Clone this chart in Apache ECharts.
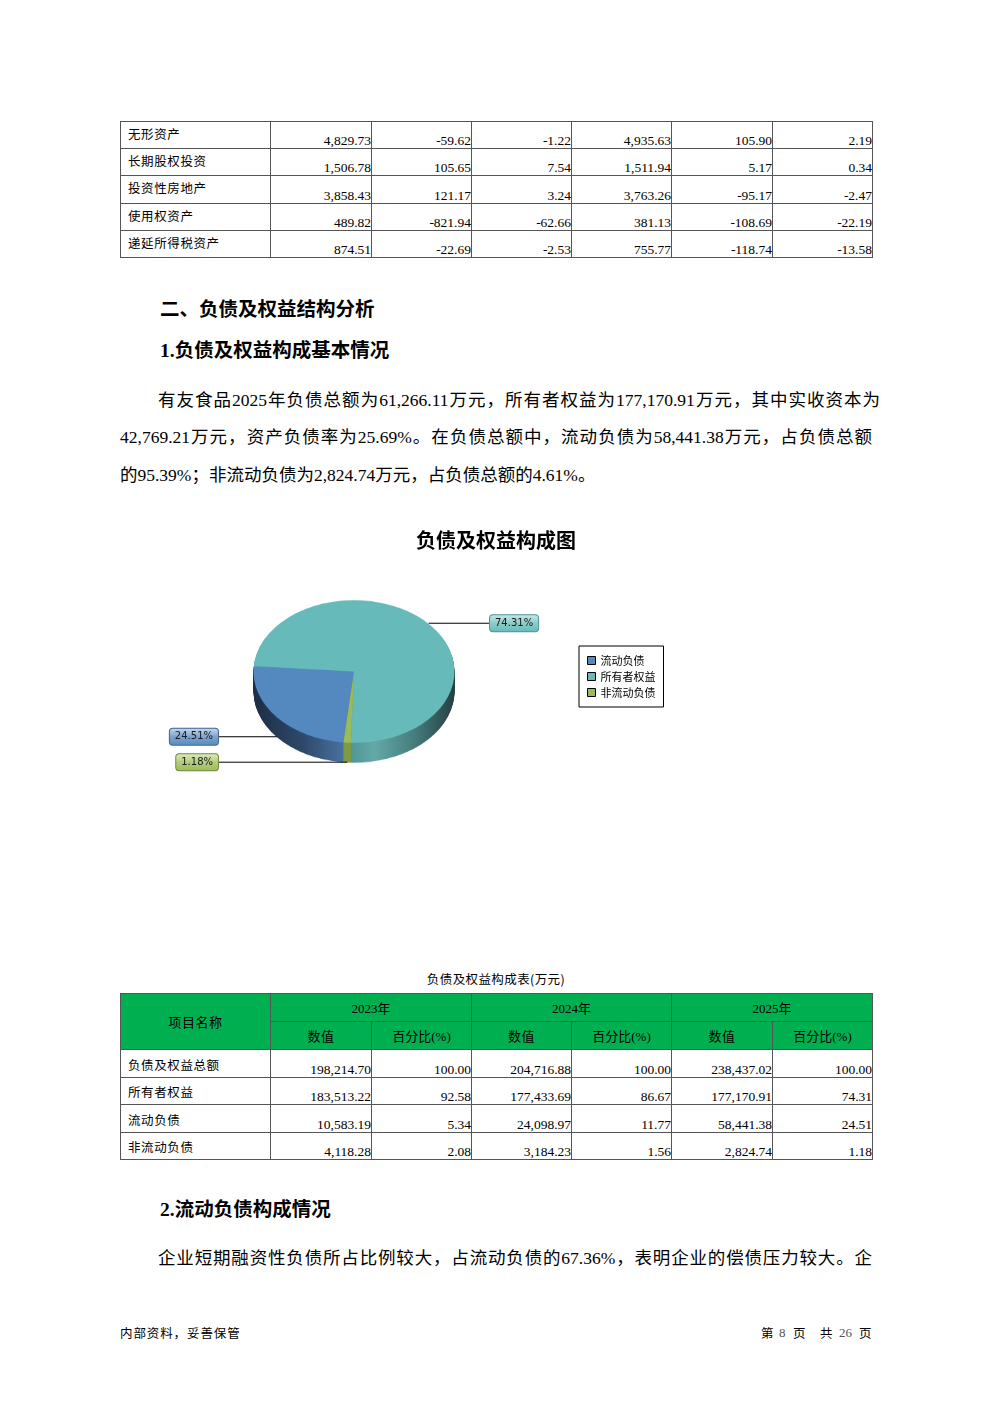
<!DOCTYPE html>
<html>
<head>
<meta charset="utf-8">
<script src="https://cdn.jsdelivr.net/npm/echarts/dist/echarts.min.js"></script>
<style>
body{margin:0;background:#fff;}
#page{position:relative;width:992px;height:1403px;overflow:hidden;background:#fff;color:#000;font-family:"Liberation Serif","Noto Sans CJK SC",serif;}
.abs{position:absolute;white-space:nowrap;}
.h{font-weight:bold;font-size:19.5px;line-height:24px;}
.line{position:absolute;font-size:17.5px;line-height:22px;white-space:nowrap;}
.just{text-align:justify;text-align-last:justify;white-space:normal;}
table.t{position:absolute;left:120px;border-collapse:collapse;table-layout:fixed;border:1px solid #222;}
table.t td{border:1px solid #555;padding:0;overflow:hidden;white-space:nowrap;}
table.t td.lab{font-family:"Noto Sans CJK SC",sans-serif;font-size:12.5px;letter-spacing:0.6px;padding-left:7px;vertical-align:middle;line-height:14px;}
table.t td.num{font-family:"Liberation Serif",serif;font-size:13.5px;text-align:right;vertical-align:bottom;line-height:14px;padding-right:0;}
table.t td.hd{background:#00b050;text-align:center;vertical-align:middle;font-size:13px;font-family:"Liberation Serif","Noto Sans CJK SC",serif;}
table.t td.hdc{background:#00b050;text-align:center;vertical-align:middle;font-size:13px;letter-spacing:0.6px;font-family:"Noto Sans CJK SC",sans-serif;}
#pieA{position:absolute;left:0;width:992px;height:300px;transform-origin:0 0;}
#pieB{position:absolute;left:0;top:510px;width:992px;height:300px;}
.foot{position:absolute;top:1325px;height:16px;line-height:16px;font-size:12.5px;font-family:'Noto Sans CJK SC',sans-serif;white-space:nowrap;}
.pn{font-family:'Liberation Serif',serif;color:#555;font-size:13px;}
</style>
</head>
<body>
<div id="page">
  <table class="t" id="assetTable" style="top:121px;"></table>

  <div class="abs h" style="left:160px;top:296px;font-family:'Noto Sans CJK SC',sans-serif;">二、负债及权益结构分析</div>
  <div class="abs h" style="left:160px;top:339px;">1.负债及权益构成基本情况</div>

  <div class="line just" style="left:158px;top:389px;width:722px;">有友食品2025年负债总额为61,266.11万元，所有者权益为177,170.91万元，其中实收资本为</div>
  <div class="line just" style="left:120px;top:426px;width:752px;">42,769.21万元，资产负债率为25.69%。在负债总额中，流动负债为58,441.38万元，占负债总额</div>
  <div class="line" style="left:120px;top:464px;">的95.39%；非流动负债为2,824.74万元，占负债总额的4.61%。</div>

  <div id="pieA"></div>
  <div id="pieB"></div>

  <div class="abs" style="left:0;width:992px;text-align:center;top:969px;font-size:12.5px;letter-spacing:0.4px;font-family:'Noto Sans CJK SC',sans-serif;">负债及权益构成表(万元)</div>
  <table class="t" id="structTable" style="top:993px;"></table>

  <div class="abs h" style="left:160px;top:1198px;">2.流动负债构成情况</div>
  <div class="line just" style="left:158px;top:1247px;width:714px;">企业短期融资性负债所占比例较大，占流动负债的67.36%，表明企业的偿债压力较大。企</div>

  <div class="foot" style="left:120px;letter-spacing:0.9px;">内部资料，妥善保管</div>
  <div class="foot" style="left:761px;">第</div>
  <div class="foot pn" style="left:779px;">8</div>
  <div class="foot" style="left:793px;">页</div>
  <div class="foot" style="left:820px;">共</div>
  <div class="foot pn" style="left:839px;">26</div>
  <div class="foot" style="left:859px;">页</div>
</div>

<script>
// ---------- data ----------
const assetItems = ['无形资产','长期股权投资','投资性房地产','使用权资产','递延所得税资产'];
const assetCol1 = ['4,829.73','1,506.78','3,858.43','489.82','874.51'];
const assetCol2 = ['-59.62','105.65','121.17','-821.94','-22.69'];
const assetCol3 = ['-1.22','7.54','3.24','-62.66','-2.53'];
const assetCol4 = ['4,935.63','1,511.94','3,763.26','381.13','755.77'];
const assetCol5 = ['105.90','5.17','-95.17','-108.69','-118.74'];
const assetCol6 = ['2.19','0.34','-2.47','-22.19','-13.58'];

const years = ['2023年','2024年','2025年'];
const structItems = ['负债及权益总额','所有者权益','流动负债','非流动负债'];
const struct2023Value = ['198,214.70','183,513.22','10,583.19','4,118.28'];
const struct2023Pct = ['100.00','92.58','5.34','2.08'];
const struct2024Value = ['204,716.88','177,433.69','24,098.97','3,184.23'];
const struct2024Pct = ['100.00','86.67','11.77','1.56'];
const struct2025Value = ['238,437.02','177,170.91','58,441.38','2,824.74'];
const struct2025Pct = ['100.00','74.31','24.51','1.18'];

const pieNames = ['流动负债','所有者权益','非流动负债'];
const pieShares = [24.51, 74.31, 1.18];

// ---------- tables ----------
const colW = [150,101,100,100,100,101,100];
function colgroup(){ return '<colgroup>' + colW.map(w=>'<col style="width:'+w+'px">').join('') + '</colgroup>'; }
(function(){
  const cols = [assetCol1,assetCol2,assetCol3,assetCol4,assetCol5,assetCol6];
  let h = colgroup();
  assetItems.forEach((name,i)=>{
    h += '<tr style="height:27.2px"><td class="lab" style="padding-bottom:2px">'+name+'</td>' + cols.map(c=>'<td class="num">'+c[i]+'</td>').join('') + '</tr>';
  });
  document.getElementById('assetTable').innerHTML = h;
})();
(function(){
  const cols = [struct2023Value,struct2023Pct,struct2024Value,struct2024Pct,struct2025Value,struct2025Pct];
  let h = colgroup();
  h += '<tr style="height:28px"><td class="hdc" rowspan="2">项目名称</td>' + years.map(y=>'<td class="hd" colspan="2">'+y+'</td>').join('') + '</tr>';
  h += '<tr style="height:28px">' + years.map(()=>'<td class="hdc">数值</td><td class="hd">百分比(%)</td>').join('') + '</tr>';
  structItems.forEach((name,i)=>{
    h += '<tr style="height:27.5px"><td class="lab" style="padding-top:3px">'+name+'</td>' + cols.map(c=>'<td class="num">'+c[i]+'</td>').join('') + '</tr>';
  });
  document.getElementById('structTable').innerHTML = h;
})();

// ---------- pie chart ----------
const CX = 354, R = 100.5, SQ = 0.71, DEPTH = 20, START = 264, LABEL_OFF = 136;
const CYA = 150;            // centre inside the squashed canvas
const PAGE_CY = 671;        // centre of the top face on the page
const elA = document.getElementById('pieA');
elA.style.top = (PAGE_CY - CYA*SQ) + 'px';
elA.style.transform = 'scaleY(' + SQ + ')';

const topColors = ['#5389be','#66bbba','#9bbb59'];
const G = echarts.graphic.LinearGradient;
const sideColors = [
  new G(CX-R,0,CX+R,0,[{offset:0,color:'#1d2e45'},{offset:0.25,color:'#30496b'},{offset:0.46,color:'#4c74a2'},{offset:1,color:'#4c74a2'}],true),
  new G(CX-R,0,CX+R,0,[{offset:0,color:'#4a9090'},{offset:0.47,color:'#4c9393'},{offset:0.6,color:'#64a9a9'},{offset:0.8,color:'#467d7e'},{offset:1,color:'#263f42'}],true),
  '#7e9a45'
];

const chartA = echarts.init(elA);
const seriesA = [];
const depthU = Math.round(DEPTH/SQ);
for (let k = depthU; k >= 1; k--) {
  seriesA.push({
    type:'pie', silent:true, animation:false, z:1,
    center:[CX, CYA + k], radius:R, startAngle:START, clockwise:true,
    label:{show:false}, labelLine:{show:false},
    itemStyle:{borderWidth:0},
    data: pieNames.map((n,i)=>({name:n, value:pieShares[i], itemStyle:{color:sideColors[i]}}))
  });
}
seriesA.push({
  type:'pie', silent:true, animation:false, z:2,
  center:[CX, CYA], radius:R, startAngle:START, clockwise:true,
  label:{show:false}, labelLine:{show:false},
  itemStyle:{borderWidth:0},
  data: pieNames.map((n,i)=>({name:n, value:pieShares[i], itemStyle:{color:topColors[i]}}))
});
chartA.setOption({animation:false, series:seriesA});

// labels, title and legend (unsquashed)
const CYB = PAGE_CY - 510;
const total = pieShares.reduce((a,b)=>a+b,0);
function midAngle(i){
  let before = 0;
  for (let j=0;j<i;j++) before += pieShares[j];
  return (START - (before + pieShares[i]/2)/total*360) * Math.PI/180;
}
const labelLight = ['#c9d9ee','#c8e9e8','#e0ecc2'];
const labelMid = ['#7fa3cf','#8accca','#b2cc7c'];
const labelBorder = ['#41658f','#4f9595','#71893c'];

const chartB = echarts.init(document.getElementById('pieB'));
chartB.setOption({
  animation:false,
  title:{text:'负债及权益构成图', left:'center', top:19, padding:0,
    textStyle:{fontSize:20, fontWeight:'bold', color:'#000', fontFamily:'Noto Sans CJK SC', lineHeight:22}},
  legend:{
    orient:'vertical', left:579, top:136, padding:[9,8,9,8],
    borderColor:'#000', borderWidth:1, itemWidth:8, itemHeight:8, itemGap:5,
    selectedMode:false,
    textStyle:{fontSize:11, color:'#000', fontFamily:'Noto Sans CJK SC', lineHeight:11},
    data: pieNames.map((n,i)=>({name:n, icon:'rect', itemStyle:{color:topColors[i], borderColor:'#000', borderWidth:1, opacity:1}}))
  },
  series:[{
    type:'pie', silent:true, animation:false,
    center:[CX, CYB], radius:R, startAngle:START, clockwise:true,
    itemStyle:{color:'rgba(0,0,0,0)', borderWidth:0},
    label:{show:true, position:'outside', formatter:p=>p.value.toFixed(2)+'%',
      color:'#1a1a1a', fontFamily:'DejaVu Sans', fontSize:10, lineHeight:12,
      padding:[2,5,2,5], borderRadius:3, borderWidth:1},
    labelLine:{show:true, lineStyle:{color:'#000', width:1}},
    labelLayout:function(p){
      const a = midAngle(p.dataIndex);
      const c = Math.cos(a), s = Math.sin(a);
      const x0 = CX + R*c;
      const y0 = CYB - R*SQ*s + (s < 0 ? DEPTH : 0);
      const right = c >= 0;
      const x1 = CX + (right ? LABEL_OFF : -LABEL_OFF);
      return {x:x1, y:y0, align: right ? 'left' : 'right', verticalAlign:'middle',
              labelLinePoints:[[x0,y0],[x1,y0],[x1,y0]]};
    },
    data: pieNames.map((n,i)=>({name:n, value:pieShares[i],
      label:{backgroundColor:new G(0,0,0,1,[{offset:0,color:labelLight[i]},{offset:0.5,color:labelMid[i]},{offset:1,color:topColors[i]}]),
             borderColor:labelBorder[i]}}))
  }]
});
</script>
</body>
</html>
